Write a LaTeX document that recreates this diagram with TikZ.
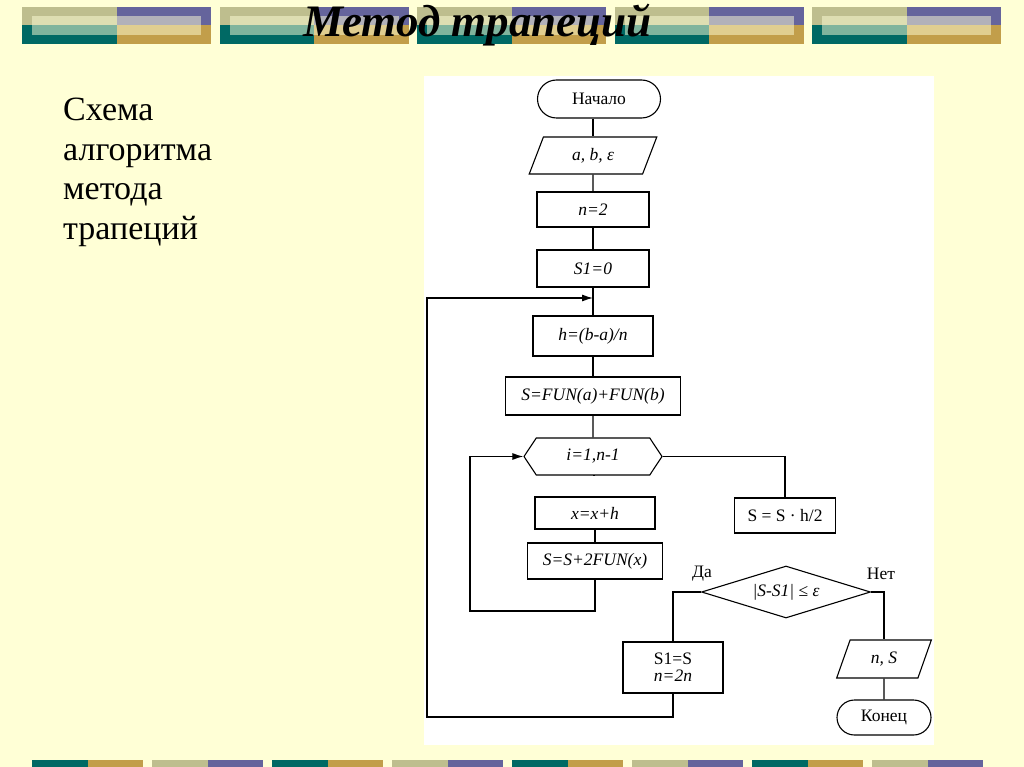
\documentclass[tikz,border=0pt]{standalone}
\usepackage{fontspec}
\setmainfont{Liberation Serif}
\usepackage{tikz}
\usetikzlibrary{shapes,arrows,arrows.meta}
\definecolor{slidebg}{RGB}{255,255,214}
\definecolor{tilekhaki}{RGB}{190,190,142}
\definecolor{tilepurple}{RGB}{101,100,156}
\definecolor{tileteal}{RGB}{0,105,100}
\definecolor{tilegold}{RGB}{194,158,74}
\tikzstyle{line} = [draw, line width=1.1pt, -{Latex[length=11pt,width=7pt]}]
\tikzstyle{link} = [draw, line width=1.1pt]
\tikzstyle{chart} = [draw, line width=1.1pt, fill=white, inner sep=0pt, font=\fontsize{17.5}{19}\selectfont]
\tikzstyle{term} = [chart, rounded rectangle]
\tikzstyle{proc} = [chart, rectangle, align=center]
\tikzstyle{io} = [chart, trapezium, trapezium left angle=68, trapezium right angle=112, trapezium stretches=true]
\tikzstyle{cycle} = [chart, signal, signal to=west and east, signal pointer angle=113]
\tikzstyle{cond} = [chart, diamond, aspect=3.25]
\tikzstyle{branch} = [font=\fontsize{17.5}{19}\selectfont]
\tikzstyle{heading} = [inner sep=0pt, font=\fontsize{34}{39}\selectfont]

\begin{document}
\begin{tikzpicture}[x=1pt, y=-1pt]
	\useasboundingbox (0,0) rectangle (1024,767);
	\fill[slidebg] (0,0) rectangle (1024,767);
	% top banner
	\foreach \x in {22,219.5,417,614.5,812} {
		\fill[tilekhaki] (\x,7) rectangle ++(94.5,18.5);
		\fill[tilepurple] (\x+94.5,7) rectangle ++(94.5,18.5);
		\fill[tileteal] (\x,25.5) rectangle ++(94.5,18.5);
		\fill[tilegold] (\x+94.5,25.5) rectangle ++(94.5,18.5);
		\fill[slidebg, opacity=0.5] (\x+10,16) rectangle ++(169,19);
	}
	% bottom banner
	\foreach \x [count=\i] in {32,152,272,392,512,632,752,872} {
		\ifodd\i
			\fill[tileteal] (\x,760) rectangle ++(56,8);
			\fill[tilegold] (\x+56,760) rectangle ++(55,8);
		\else
			\fill[tilekhaki] (\x,760) rectangle ++(56,8);
			\fill[tilepurple] (\x+56,760) rectangle ++(55,8);
		\fi
	}
	\node [anchor=base, inner sep=0pt, font=\fontsize{45}{50}\selectfont\bfseries\itshape] (title) at (477.5,37) {Метод трапеций};
	\foreach \t [count=\i] in {Схема,алгоритма,метода,трапеций}
		\node [heading, anchor=base west] (cap\i) at (63,81.5+39.4*\i) {\t};
	
	% flowchart
	\fill[white] (424,76) rectangle (934,745);
	\node [term, minimum width=123, minimum height=38] (start) at (599,99) {Начало};
	\node [io, minimum width=128, minimum height=37] (input) at (593,155.5) {\textit{a, b, ε}};
	\node [proc, minimum width=112, minimum height=35] (n2) at (593,209.5) {\textit{n=2}};
	\node [proc, minimum width=112, minimum height=37] (s10) at (593,268.5) {\textit{S1=0}};
	\node [proc, minimum width=120, minimum height=40] (step) at (593,336) {\textit{h=(b-a)/n}};
	\node [proc, minimum width=175, minimum height=38] (sfun) at (593,396) {\textit{S=FUN(a)+FUN(b)}};
	\node [cycle, minimum width=138, minimum height=37] (loop) at (593,456.5) {\textit{i=1,n-1}};
	\node [proc, minimum width=120, minimum height=32] (xh) at (595,513) {\textit{x=x+h}};
	\node [proc, minimum width=135, minimum height=36] (sadd) at (595,561) {\textit{S=S+2FUN(x)}};
	\node [proc, minimum width=101, minimum height=35] (shalf) at (785,515.5) {S = S · h/2};
	\node [cond, minimum width=169, minimum height=52] (check) at (786,592) {\textit{|S-S1|} ≤ \textit{ε}};
	\node [proc, minimum width=100, minimum height=51] (renew) at (673,667.5) {S1=S\\[-2pt]\textit{n=2n}};
	\node [io, minimum width=95, minimum height=38, trapezium left angle=70, trapezium right angle=110] (output) at (884,659) {\textit{n, S}};
	\node [term, minimum width=94, minimum height=35] (finish) at (884,717.5) {Конец};
	\node [branch] (yes) at (702,574) {Да};
	\node [branch] (no) at (881,574) {Нет};
	
	\coordinate (join) at (593,298);
	\coordinate (outer) at (427,717);
	\coordinate (inner) at (470,611);
	
	\path [link] (start.south -| input.north) -- (input.north);
	\path [link] (input) -- (n2);
	\path [link] (n2) -- (s10);
	\path [link] (s10) -- (step);
	\path [link] (step) -- (sfun);
	\path [link] (sfun) -- (loop);
	\path [link] (loop.south) -- (loop.south -| xh.north);
	\path [link] (xh) -- (sadd);
	\path [line] (sadd.south) |- (inner) |- (loop.west);
	\path [link] (loop.east) -| (shalf.north);
	\path [link] (shalf.south) -- (shalf.south -| check.north);
	\path [link] (check.west) -| (renew.north);
	\path [link] (check.east) -| (output.north);
	\path [link] (output) -- (finish);
	\path [line] (renew.south) |- (outer) |- (join);
\end{tikzpicture}
\end{document}
